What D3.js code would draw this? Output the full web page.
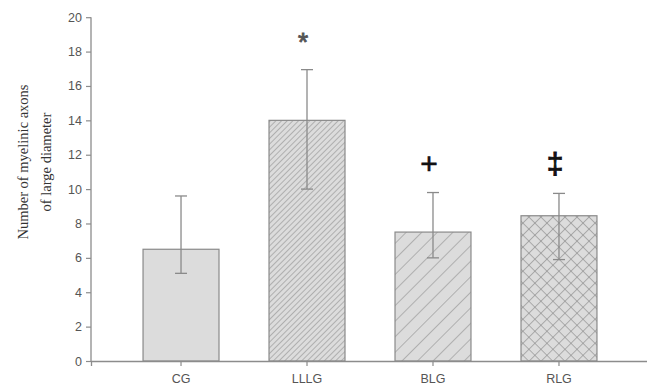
<!DOCTYPE html>
<html>
<head>
<meta charset="utf-8">
<script src="https://cdn.jsdelivr.net/npm/d3@7"></script>
<style>
  body { margin: 0; background: #fff; }
  svg { display: block; }
</style>
</head>
<body>
<svg id="chart"></svg>
<script>
// data
const groups = ["CG", "LLLG", "BLG", "RLG"];
const means = [6.5, 14, 7.5, 8.45];
const errHigh = [9.6, 16.95, 9.8, 9.75];
const errLow = [5.1, 10, 6.0, 5.9];
const marks = ["", "*", "+", "‡"];
const patterns = ["none", "dense", "sparse", "cross"];
const yTicks = [0, 2, 4, 6, 8, 10, 12, 14, 16, 18, 20];

const w = 647;
const h = 387;
const svg = d3.select("#chart").attr("width", w).attr("height", h);

//scales
const xScale = d3.scaleBand(groups, [91, 649]).paddingInner(0.397).paddingOuter(0.413);
const yScale = d3.scaleLinear([0, 20], [361, 17.2]);

const axisCol = "#8c8c8c";

// hatch patterns
const defs = svg.append("defs");
function hatch(id, size, angle, cross) {
  const p = defs.append("pattern")
    .attr("id", id)
    .attr("patternUnits", "userSpaceOnUse")
    .attr("width", size)
    .attr("height", size)
    .attr("patternTransform", "rotate(" + angle + ")");
  p.append("rect").attr("width", size).attr("height", size).attr("fill", "#dcdcdc");
  p.append("line").attr("x1", 0).attr("y1", 0).attr("x2", 0).attr("y2", size)
    .attr("stroke", "#8a8a8a").attr("stroke-width", cross ? 1.2 : 1.1);
  if (cross) {
    p.append("line").attr("x1", 0).attr("y1", 0).attr("x2", size).attr("y2", 0)
      .attr("stroke", "#8a8a8a").attr("stroke-width", 1.2);
  }
}
hatch("dense", 4, 45, false);
hatch("sparse", 11, 45, false);
hatch("cross", 8.5, 45, true);

// bars
svg.append("g")
  .selectAll("rect")
  .data(groups)
  .enter()
  .append("rect")
  .attr("x", (d) => xScale(d))
  .attr("y", (d, i) => yScale(means[i]))
  .attr("width", xScale.bandwidth())
  .attr("height", (d, i) => yScale(0) - yScale(means[i]))
  .attr("fill", (d, i) => (patterns[i] === "none" ? "#dcdcdc" : "url(#" + patterns[i] + ")"))
  .attr("stroke", "#8a8a8a")
  .attr("stroke-width", 1.2);

// error bars
const eb = svg.append("g").attr("stroke", "#8a8a8a").attr("stroke-width", 1.3);
groups.forEach(function (g, i) {
  const cx = xScale(g) + xScale.bandwidth() / 2;
  eb.append("line").attr("x1", cx).attr("x2", cx)
    .attr("y1", yScale(errLow[i])).attr("y2", yScale(errHigh[i]));
  eb.append("line").attr("x1", cx - 6).attr("x2", cx + 6)
    .attr("y1", yScale(errLow[i])).attr("y2", yScale(errLow[i]));
  eb.append("line").attr("x1", cx - 6).attr("x2", cx + 6)
    .attr("y1", yScale(errHigh[i])).attr("y2", yScale(errHigh[i]));
});

//axes
const yAxis = d3.axisLeft(yScale).tickValues(yTicks).tickSizeOuter(0).tickSize(5).tickPadding(4);
const gy = svg.append("g").attr("transform", "translate(91,0)").call(yAxis);
const xAxis = d3.axisBottom(xScale).tickSizeOuter(0).tickSize(5).tickPadding(8);
const gx = svg.append("g").attr("transform", "translate(0,361)").call(xAxis);
[gx, gy].forEach(function (g) {
  g.select(".domain").attr("stroke", axisCol).attr("stroke-width", 1.3);
  g.selectAll(".tick line").attr("stroke", axisCol).attr("stroke-width", 1.2);
  g.selectAll("text")
    .attr("fill", "#555")
    .style("font-family", "Liberation Sans, Arial, sans-serif")
    .style("font-size", "12.5px");
});
gy.select(".domain").attr("d", "M0,361V17.2");

// significance marks
svg.append("g")
  .selectAll("text")
  .data(groups)
  .enter()
  .append("text")
  .attr("x", (d) => xScale(d) + xScale.bandwidth() / 2 - 4)
  .attr("y", (d, i) => (i === 1 ? 51 : 174))
  .attr("text-anchor", "middle")
  .attr("fill", (d, i) => (i === 1 ? "#555" : "#111"))
  .attr("stroke", (d, i) => (i === 1 ? "#555" : "#111"))
  .attr("stroke-width", (d, i) => (i === 2 ? 0.6 : 0.9))
  .style("font-family", "Liberation Sans, Arial, sans-serif")
  .style("font-size", (d, i) => (i === 1 ? "26px" : "30px"))
  .text((d, i) => marks[i]);

// axis title
const title = svg.append("text")
  .attr("transform", "translate(0,162) rotate(-90)")
  .attr("text-anchor", "middle")
  .attr("fill", "#333")
  .style("font-family", "Liberation Serif, Times New Roman, serif")
  .style("font-size", "14.5px");
title.append("tspan").attr("x", 0).attr("y", 28).text("Number of myelinic axons");
title.append("tspan").attr("x", 0).attr("y", 51).text("of large diameter");
</script>
</body>
</html>
